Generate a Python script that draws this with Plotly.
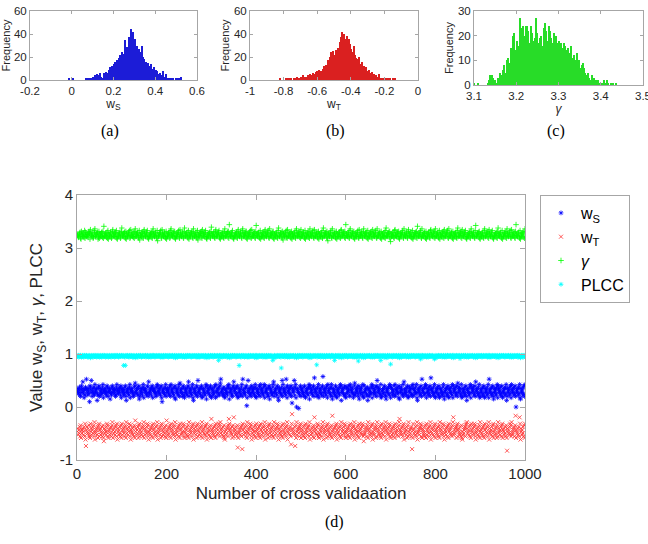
import plotly.graph_objects as go

ws_bin_start = -0.02
ws_bin_width = 0.005
ws_counts = [0, 1, 0, 0, 0, 1, 0, 0, 0, 0, 0, 0, 0, 0, 0, 0, 0, 1, 1, 2,
             1, 2, 2, 1, 3, 2, 4, 3, 5, 3, 4, 6, 3, 2, 6, 5, 7, 5, 6, 9,
             11, 10, 12, 9, 14, 16, 12, 17, 15, 19, 22, 18, 24, 20, 23, 35, 29, 22, 37, 30,
             44, 38, 42, 33, 36, 28, 30, 25, 27, 24, 22, 30, 20, 18, 14, 16, 13, 15, 12, 14,
             10, 9, 11, 7, 9, 8, 5, 4, 6, 3, 4, 8, 3, 2, 5, 2, 1, 1, 2, 0,
             1, 1, 0, 2, 1, 1, 0, 1, 3, 0]

wt_bin_start = -0.822
wt_bin_width = 0.006
wt_counts = [1, 0, 0, 0, 0, 0, 1, 0, 1, 1, 2, 1, 0, 1, 2, 1, 3, 1, 2, 1,
             3, 2, 4, 2, 3, 2, 3, 4, 3, 5, 4, 3, 6, 5, 4, 7, 8, 6, 9, 7,
             8, 6, 10, 12, 9, 13, 11, 17, 14, 20, 24, 18, 25, 22, 15, 26, 24, 28, 27, 33,
             37, 42, 35, 40, 36, 30, 38, 33, 36, 31, 27, 24, 20, 30, 22, 19, 18, 15, 20, 14,
             12, 16, 10, 12, 9, 11, 8, 7, 9, 6, 5, 7, 4, 5, 3, 4, 2, 3, 5, 2,
             1, 2, 1, 0, 1, 1, 0, 1, 0, 1, 0, 0, 1, 0, 1]

gam_bin_start = 3.0985
gam_bin_width = 0.003
gam_counts = [1, 0, 0, 1, 0, 0, 0, 0, 0, 0, 0, 1, 2, 4, 4, 3, 2, 2, 1, 3,
              2, 5, 4, 6, 8, 5, 10, 11, 9, 15, 13, 20, 21, 14, 18, 16, 27, 23, 21, 24,
              20, 24, 24, 22, 17, 24, 21, 18, 19, 27, 21, 17, 19, 20, 16, 23, 25, 22, 18, 24,
              22, 19, 17, 21, 16, 20, 17, 18, 16, 17, 15, 17, 16, 14, 15, 13, 12, 16, 11, 12,
              10, 13, 8, 10, 7, 8, 9, 7, 5, 4, 5, 3, 2, 4, 2, 3, 2, 1, 2, 1,
              1, 0, 1, 2, 1, 2, 1, 0, 1, 0, 1, 0, 1]

# ---------------- scatter data (panel d), one letter per cross validation ----------------
LEVELS = "abcdefghijklmnopqrstuvwxyz"

ws_lo, ws_step = -0.05, 0.025
ws_codes = (
    "oqmpnrlkps nqvomjplrq xpnlqomgsr pwnkoqmrlt onpqhmlrsk qolnpmrtjo pnqmolsrkn oqpinmlrsp nqompklrto pmnqorlsjp "
    "qnolpmrskh onpqmlrtjo pqnomklrsu nopmqlrsik omqpnlrtjp qpnolmsrkv nmopqlrsjo pqomnkrlts onqpmlrsjg opnqmlrtkp "
    "nqpomlrskt pnoqmlrjsi qonpmlrtku opnqmksrlj npqomlrsvk oqnpmlrtjh pnqomlsrkw nopqmlrsjk qpnomlrtis onqpmlrskj "
    "pqnlomrsjt oknpqmrlsu xnoplqmrkj pmonqlsrti nqoplmkrsv opqnlrmsjk qnoplmrtkx pomnqlrsdj ownqplmrks npoqmlrtkj "
    "qonpmlsrkt pnqomlrtjs onpqmklrsi qpnolmrtvk nopqmlsrjh oqnpmlrwkt pnqomlxrjs onpqmlrskf pnqowlrtjc qponbmlrsk "
    "pqonmlrskj onpqmlrtis qnopmlrsky pnoqmkrltj oqnpmlrszk npqomlrsjt opnqmlrtki qnpomlsrkj pnoqmlrtsh onqpmlrskj "
    "mqrnopslkt rponqmjlsu lnpqormksi oqmprnltkj snopqlmrhk pqlonmrtjs qmonplrskw nrpoqmltjk opmqnsrlki pnoqrmltsj "
    "rqnlpomskt lpqonrmjsi qonrplmtkv pnmqolrsjk ornpqlmskt qlponrmtjh npqolrmskx ponqlrmtsj qnolprmsky pqonlrmtkj "
    "onqprlmsjk qpnolmrtki nopqlrmskj pqnormltjs oqpnlrmsku nprqolmtjk qonplrmskh poqnlmrtjs nqporlmskv opqnlrmtjk "
    "pnoqlrmskj qonplrmtjx opnqlrmski nqoplmrtjs pqnolrmskj onpqlrmthk qnoplrmsjt ponqlrmskc opnqlrmtji qonplrmskt"
)

wt_lo, wt_step = -0.855, 0.030
wt_codes = (
    "nplomqkrjo mopnlqksie oqnmplrkjs nlpoqmrkti mnoplqjrsk oplnmqkrjh pmonlqsrkj nolpmqkrtj ompnlqrksi pnolmqkrjs "
    "lonpmqkrjt mpolnqskri onmplqkrju nplomqjrsk omnlpqkrtj plonmqsrki nmolpqkrjs opmnlqkrti mnpolqjrsk olnpmqkrju "
    "nolmpqkrjs pnomlqrkti monlpqkrjs oplmnqsrkj nmpolqkrjt lonmpqkrsi pmnolqjrsk onlpmqkrtj nopmlqrksi mpnolqkrjv "
    "onmplqkrjs nplomqsrkt mopnlqkrji nlompqkrvs opnmlqjrkw pnolmqkrdj mnoplqkrcs olpnmqkrjt nmoplqsrki pmonlqkrjs "
    "nopmlqkrjs olnpmqkrti pnmolqjrsk monplqkrjt nlopmqsrki pomnlqkrjs onlmpqkrti nmpolqkfsy opnmlqerjt lnopmqkrsj "
    "pnolmqkrjs monplqrkti olnmpqkrjw npomlqsrkj mlonpqkrti pmnolqjrsk onpmlqkrjx nolpmqkrsi omnplqkrjt plnomqsrkj "
    "mnoplqkrjs onlmpqrkti pmonlqkrjs nopmlqsrkh lmnopqkrjt opnlmqkrsi nmlopqjrkt pnomlqkrjs molnpqkrti onpmlqsrkj "
    "nolpmqkrjs pmnolqkrtv onmlpqkrsi mpnolqjrkt nlompqkcjs opmnlqkrti mnolpqsrkj ponmlqkrjs lonpmqkrti nmpolqkrsj "
    "onmplqkrjt pnolmqsrki monlpqkrjs nopmlqkrtw lmonpqjrsk opnmlqkrji nlmopqkrst pmnolqkrjs onlpmqsrki mnpolqkrjt "
    "nomplqkrjs olpnmqkrti pmnolqkrsj nolmpqjrkt mpnolqkrsj onplmqkrjb pnomlqsrkt lmnopqkrxj onmplqkwsi pnolmqkrjs"
)

gam_lo, gam_step = 3.073, 0.016
gam_codes = (
    "kmijlnohgp lkmjniqhol jmkliopngr mlkjnhiqos kjmlnogiph lmkjoniphv jlkmniohqg mkljonhipr kljmnoiqhg jmklnohipt "
    "lkjmnoihpg mjklnoqhir kmljniohps jlmknoihqf lkmjnoihpr mkjlnoqihg jkmlnoihps lmjknoihqe kjlmnoqihr mlkjnoihpg "
    "jkmlnohiqs lmkjnoiphg kjmlnoqihr mljknoihpt jmklnoihqg kljmnopihs mkjlnoihqf ljkmnoiphr kmljnoqihg jlmknoihpu "
    "mkljnoihpr jlkmnoqihg lmjknoihps kjmlnoiphx mljknoqihg jkmlnoihpr lkjmnoihqs mjklnoiphg kmljnoqihr jlmknoihpw "
    "lkmjnoihqg mjlknoihpr kljmnoqihs jmklnoiphg lmkjnoihqt kjlmnoihpf mlkjnoqihr jkmlnoihpg lmjknoihqs kmjlnoiphr "
    "jlkmnoihqg mkjlnoiphs lkmjnoqihr kjmlnoihpg mljknoihqt jkmlnoiphe lmkjnoqihs kljmnoihpg mjklnoihqr jlmknoiphx "
    "kmljnoihqs ljkmnoiphg mkjlnoqihr jlmknoihps lkjmnoihqg kmjlnoiphr mljknoqihs jkmlnoihpg lmkjnoihqt kjlmnoiphd "
    "mjlknoihqr kljmnoiphg jmklnoqihs lmjknoihpr kmljnoihqg jlkmnoiphv mkjlnoqihs ljkmnoihpg kjmlnoihqr mlkjnoiphs "
    "jkmlnoihqg lmkjnoiphr kjlmnoqihs mjklnoihpg lkmjnoihqt jmlknoiphr kmjlnoqihg ljmknoihps mkljnoihqw jklmnoiphg "
    "lmjknoihqs kjmlnoiphr mljknoqihg jlkmnoihpt kmljnoihqg ljkmnoiphs mkjlnoqihr jmlknoihpx lkjmnoihqg kmjlnoiphs"
)

plcc_lo, plcc_step = 0.70, 0.012
plcc_codes = (
    "wvxuwvwxvu vwxwuvxwvw xwvuwvxwvt wvxwvuwxvw vxwuvwxvwu wvxwuvwxvw xvwuwvxwvu wvxwvuwxvw vwxuwvxwvx wvuwxvwvxw "
    "vwxhwvuhxw wvxwvuwxvw xvwuwvxwvt vwxwvuwxvw wxvuwvxwvw vwxuwvxwvu wvxwuvwxvw xvwuwvxwvw vwxwvuwxvu wvxuwvxwvw "
    "wvxuwvxwvw vwxwvuwxvt xwvuwvxwvw wvxwuvwxvu vwxuwvxwvw wxvwuvxwvw vwxwvuwxvu xvwuwvxwvw wvxuwvxwvt vwxwvuwxvw "
    "wvxuwvxwvw vwxwvpwxvu xwvuwvxwvw wvxwuvwxvt vwxuwvxwvw wxvwuvxwvw vhxwvuwxvw xvwuwvxwvu wvxuwvxwvw vwxwvuwxvt "
    "xwvuwvxwvw vwxwuvwxvu wvxuwvxwvw vwxwvupwvt xwvuwvxwvw wvxwudwxvw vwxuwvxwvu xvwuwvxwvw wvxwuvwxvt vwxuwvxwvw "
    "wvxuwvxwvw vwxwvuwxvt xwvuwvxwvw wvxwiuwxvw vwxuwvxwvu wxvwuvxwvw vwxwvuwxvw xvwupvxwvw wvxuwvxwvt vwxwvuwxvw "
    "xwvuwvxwvw vwxwvuwxvu wvxuwvxovw vwxwuvwxvt xwvuwvxwvw wvxwvuwxvu vwxuwvxwvw xvwuwvxpvw wvxwuvwxvt vwxuwvxwvj "
    "wvxuwvxwvw vwxwvuwxvt xwvuwvxwvw wvxwuvwxvu vwxuwvxwvw wxvwuvxwvw vwxwvurxvw xvwuwvxwvu wvxuwvxwvw vwxwvuwrvt "
    "xwvuwvxwvw vwxwuvwxvu wvxuwvxwvw vwxwvuwxvt xwvuwvxwvw wvxwsvwxvw vwxuwvxwvu xvwuwvxwvw wvxwuvwxvt vwxuwvxwvw "
    "wvxuwvxwvw vwxwvuwxvu xwvuwvxwvw wvxwuvwxvt vwxuwvxwvw wxvwuvxwvw vwxwvuwxvu xvwuwvxwvw wvxuwvxwvt vwxwvuwxvw"
)

# tick labels
ws_ticks = [-0.2, 0, 0.2, 0.4, 0.6]
ws_ticktext = ["-0.2", "0", "0.2", "0.4", "0.6"]
wt_ticks = [-1, -0.8, -0.6, -0.4, -0.2, 0]
wt_ticktext = ["-1", "-0.8", "-0.6", "-0.4", "-0.2", "0"]
gam_ticks = [3.1, 3.2, 3.3, 3.4, 3.5]
gam_ticktext = ["3.1", "3.2", "3.3", "3.4", "3.5"]
freq60_ticks = [0, 20, 40, 60]
freq30_ticks = [0, 10, 20, 30]
run_ticks = [0, 200, 400, 600, 800, 1000]
val_ticks = [-1, 0, 1, 2, 3, 4]
val_ticktext = ["-1", "0", "1", "2", "3", "4"]


def decode(codes, lo, step):
    return [lo + step * LEVELS.index(c) for c in codes.replace(" ", "")]


def centers(start, width, counts):
    return [start + width * (i + 0.5) for i in range(len(counts))]


ws_vals = decode(ws_codes, ws_lo, ws_step)
wt_vals = decode(wt_codes, wt_lo, wt_step)
gam_vals = decode(gam_codes, gam_lo, gam_step)
plcc_vals = decode(plcc_codes, plcc_lo, plcc_step)

W, H = 648, 544
AX = "#a6a6a6"
TXT = "#262626"
SANS = "Liberation Sans, Arial, sans-serif"
SERIF = "Liberation Serif, Times New Roman, serif"

fig = go.Figure()

fig.add_trace(go.Bar(x=centers(ws_bin_start, ws_bin_width, ws_counts), y=ws_counts,
                     width=ws_bin_width, marker=dict(color="rgb(28,28,215)", line=dict(width=0)),
                     xaxis="x", yaxis="y", showlegend=False))
fig.add_trace(go.Bar(x=centers(wt_bin_start, wt_bin_width, wt_counts), y=wt_counts,
                     width=wt_bin_width, marker=dict(color="rgb(218,32,32)", line=dict(width=0)),
                     xaxis="x2", yaxis="y2", showlegend=False))
fig.add_trace(go.Bar(x=centers(gam_bin_start, gam_bin_width, gam_counts), y=gam_counts,
                     width=gam_bin_width, marker=dict(color="rgb(40,220,40)", line=dict(width=0)),
                     xaxis="x3", yaxis="y3", showlegend=False))

runs_ws = list(range(1, len(ws_vals) + 1))
runs_wt = list(range(1, len(wt_vals) + 1))
runs_gam = list(range(1, len(gam_vals) + 1))
runs_plcc = list(range(1, len(plcc_vals) + 1))


def mk(symbol, color):
    return dict(symbol=symbol, size=4, color=color, line=dict(color=color, width=0.8))


fig.add_trace(go.Scatter(x=runs_ws, y=ws_vals, mode="markers", name="w<sub>S</sub>",
                         marker=mk("asterisk-open", "#0000ff"), xaxis="x4", yaxis="y4"))
fig.add_trace(go.Scatter(x=runs_wt, y=wt_vals, mode="markers", name="w<sub>T</sub>",
                         marker=mk("x-thin-open", "#ff3030"), xaxis="x4", yaxis="y4"))
fig.add_trace(go.Scatter(x=runs_gam, y=gam_vals, mode="markers", name="<i>γ</i>",
                         marker=mk("cross-thin-open", "#00ff00"), xaxis="x4", yaxis="y4"))
fig.add_trace(go.Scatter(x=runs_plcc, y=plcc_vals, mode="markers", name="PLCC",
                         marker=mk("asterisk-open", "#00ffff"), xaxis="x4", yaxis="y4"))


def axstyle(small=True, **kw):
    d = dict(showline=True, linecolor=AX, linewidth=1, mirror="allticks",
             ticks="inside", ticklen=3 if small else 5, tickcolor=AX,
             showgrid=False, zeroline=False, automargin=False,
             ticklabeloverflow="allow",
             tickfont=dict(family=SANS, size=11.5 if small else 15, color=TXT))
    d.update(kw)
    return d


def px(x):
    return x / W


def py(y):
    return 1 - y / H


fig.update_layout(
    width=W, height=H,
    margin=dict(l=0, r=0, t=0, b=0),
    paper_bgcolor="white", plot_bgcolor="white",
    bargap=0,
    font=dict(family=SANS, color=TXT),
    xaxis=axstyle(domain=[px(30), px(197)], range=[-0.2, 0.6], anchor="y",
                  tickvals=ws_ticks, ticktext=ws_ticktext,
                  title=dict(text="w<sub>S</sub>", font=dict(size=12, color=TXT), standoff=2)),
    yaxis=axstyle(domain=[py(80), py(11)], range=[0, 60], anchor="x",
                  tickvals=freq60_ticks,
                  title=dict(text="Frequency", font=dict(size=11, color=TXT), standoff=2)),
    xaxis2=axstyle(domain=[px(250), px(418)], range=[-1, 0], anchor="y2",
                   tickvals=wt_ticks, ticktext=wt_ticktext,
                   title=dict(text="w<sub>T</sub>", font=dict(size=12, color=TXT), standoff=2)),
    yaxis2=axstyle(domain=[py(80), py(11)], range=[0, 60], anchor="x2",
                   tickvals=freq60_ticks,
                   title=dict(text="Frequency", font=dict(size=11, color=TXT), standoff=2)),
    xaxis3=axstyle(domain=[px(474), px(643)], range=[3.1, 3.5], anchor="y3",
                   tickvals=gam_ticks, ticktext=gam_ticktext,
                   title=dict(text="<i>γ</i>", font=dict(size=12, color=TXT), standoff=2)),
    yaxis3=axstyle(domain=[py(85), py(11)], range=[0, 30], anchor="x3",
                   tickvals=freq30_ticks,
                   title=dict(text="Frequency", font=dict(size=11, color=TXT), standoff=2)),
    xaxis4=axstyle(small=False, domain=[px(77), px(525)], range=[0, 1000], anchor="y4",
                   tickvals=run_ticks,
                   title=dict(text="Number of cross validaation", font=dict(size=17, color=TXT), standoff=6)),
    yaxis4=axstyle(small=False, domain=[py(460), py(195)], range=[-1, 4], anchor="x4",
                   tickvals=val_ticks, ticktext=val_ticktext,
                   title=dict(text="Value w<sub>S</sub>, w<sub>T</sub>, <i>γ</i>, PLCC",
                              font=dict(size=17, color=TXT), standoff=12)),
    legend=dict(x=px(540), y=py(195), xanchor="left", yanchor="top",
                bordercolor=AX, borderwidth=1, bgcolor="white",
                font=dict(family=SANS, size=16, color="black"),
                itemwidth=30, tracegroupgap=0),
)

for txt, x, y in [("(a)", 110, 131), ("(b)", 335, 131), ("(c)", 556, 131), ("(d)", 334, 522)]:
    fig.add_annotation(text=txt, x=px(x), y=py(y), xref="paper", yref="paper",
                       showarrow=False, xanchor="center", yanchor="middle",
                       font=dict(family=SERIF, size=16, color="black"))

# remove the default 8 px page margin so the 648x544 figure fills the window exactly
fig.write_html("out.html", config={"displayModeBar": False},
               post_script="document.body.style.margin='0px';")
